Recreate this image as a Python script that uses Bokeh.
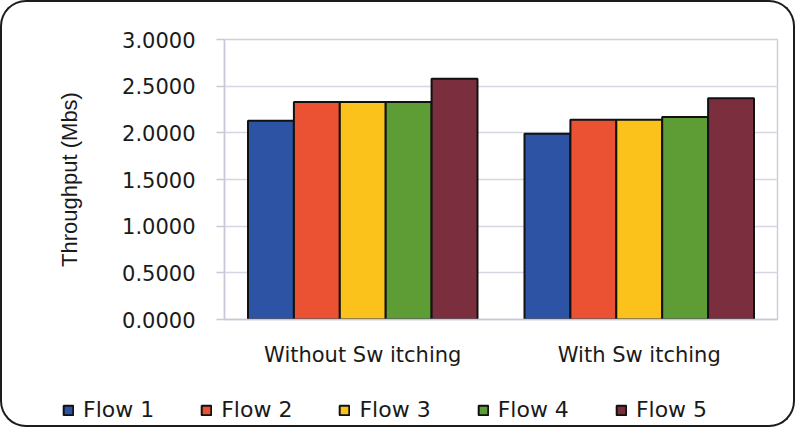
from bokeh.plotting import figure
from bokeh.models import FactorRange, Range1d, FixedTicker, NumeralTickFormatter, Legend, LegendItem
from bokeh.transform import dodge
from bokeh.embed import file_html
from bokeh.resources import INLINE

categories = ["Without Sw itching", "With Sw itching"]
flow1 = [2.13, 1.99]
flow2 = [2.33, 2.14]
flow3 = [2.33, 2.14]
flow4 = [2.33, 2.17]
flow5 = [2.58, 2.37]
series_names = ["Flow 1", "Flow 2", "Flow 3", "Flow 4", "Flow 5"]
y_ticks = [0.0, 0.5, 1.0, 1.5, 2.0, 2.5, 3.0]

colors = ["#2c53a4", "#ea5233", "#fbc21c", "#5e9c36", "#7b2e3d"]
FONT = "DejaVu Sans"
BORDER = "2px solid #1c1c1c"

p = figure(x_range=FactorRange(*categories), y_range=Range1d(0, 3),
           width=795, height=367, output_backend="svg", toolbar_location=None,
           min_border_left=222, min_border_right=20, min_border_top=37, min_border_bottom=48)
p.styles = {"border": BORDER, "border-bottom": "none",
            "border-radius": "26px 26px 0 0", "background-color": "white"}
p.border_fill_color = None
p.background_fill_color = "white"
p.outline_line_color = "#d0d0dc"
p.outline_line_width = 1.5

source = dict(cat=categories, f1=flow1, f2=flow2, f3=flow3, f4=flow4, f5=flow5)
w = 0.166
offsets = [-2 * w, -w, 0.0, w, 2 * w]
keys = ["f1", "f2", "f3", "f4", "f5"]
for k, off, c in zip(keys, offsets, colors):
    p.vbar(x=dodge("cat", off, range=p.x_range), top=k, width=w, source=source,
           fill_color=c, line_color="#111111", line_width=2)

# axes
p.yaxis.ticker = FixedTicker(ticks=y_ticks)
p.yaxis.formatter = NumeralTickFormatter(format="0.0000")
p.yaxis.axis_label = "Throughput (Mbs)"
p.yaxis.axis_label_text_font = "Liberation Sans"
p.yaxis.axis_label_text_font_style = "normal"
p.yaxis.axis_label_text_font_size = "22px"
p.yaxis.axis_label_text_color = "#1a1a1a"
p.yaxis.axis_label_standoff = 37
p.yaxis.major_label_text_font = FONT
p.yaxis.major_label_text_font_size = "21px"
p.yaxis.major_label_text_color = "#1a1a1a"
p.yaxis.major_label_standoff = 21
p.yaxis.major_tick_out = 8
p.yaxis.major_tick_in = 0
p.yaxis.minor_tick_line_color = None
p.yaxis.axis_line_color = "#c8c8da"
p.yaxis.axis_line_width = 1.5
p.yaxis.major_tick_line_color = "#c8c8da"
p.yaxis.major_tick_line_width = 1.5

p.xaxis.major_label_text_font = FONT
p.xaxis.major_label_text_font_size = "21px"
p.xaxis.major_label_text_color = "#1a1a1a"
p.xaxis.major_label_standoff = 17
p.xaxis.major_tick_line_color = None
p.xaxis.axis_line_color = "#c8c8da"
p.xaxis.axis_line_width = 1.5

p.xgrid.grid_line_color = None
p.ygrid.grid_line_color = "#d6d6e2"
p.ygrid.grid_line_width = 1.5

# legend strip: a second root so the legend is not clipped by the chart frame
lg = figure(width=795, height=60, output_backend="svg", toolbar_location=None,
            x_range=FactorRange(*categories), y_range=Range1d(10, 11),
            x_axis_location=None, y_axis_location=None,
            min_border_left=0, min_border_right=0, min_border_top=0, min_border_bottom=0)
lg.styles = {"border": BORDER, "border-top": "none",
             "border-radius": "0 0 26px 26px", "background-color": "white"}
lg.border_fill_color = None
lg.background_fill_color = None
lg.outline_line_color = None
lg.grid.grid_line_color = None
items = []
for k, c, name in zip(keys, colors, series_names):
    r = lg.vbar(x="cat", top=k, width=w, source=source,
                fill_color=c, line_color="#111111", line_width=2)
    items.append(LegendItem(label=name, renderers=[r]))

legend = Legend(items=items, orientation="horizontal", location=(60, 5),
                padding=0, margin=0, spacing=46, label_standoff=9,
                glyph_width=12, glyph_height=12, label_height=24,
                label_text_font=FONT, label_text_font_size="22px",
                label_text_color="#1a1a1a",
                border_line_color=None, background_fill_alpha=0)
lg.add_layout(legend)

open("out.html", "w").write(file_html([p, lg], INLINE))
